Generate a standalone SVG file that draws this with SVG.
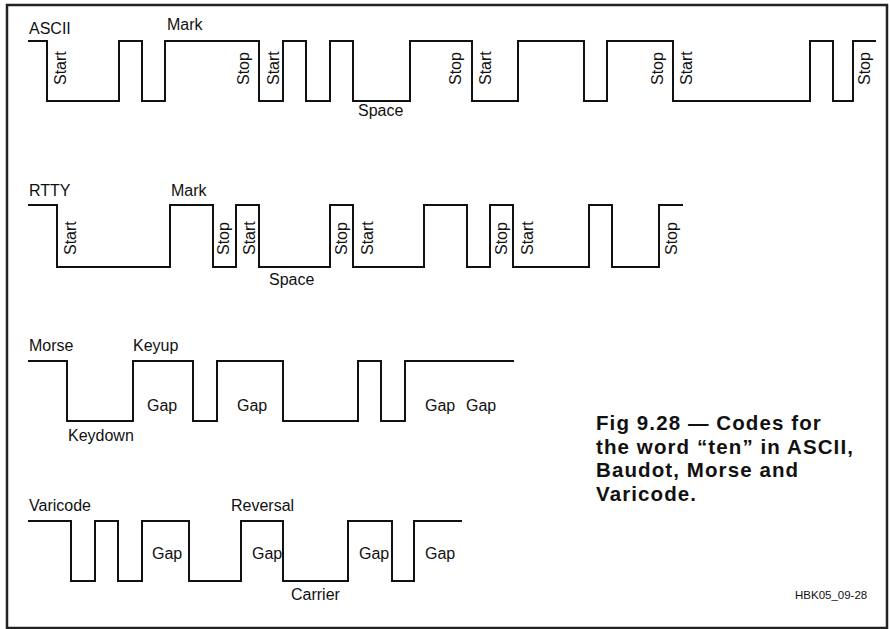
<svg xmlns="http://www.w3.org/2000/svg" width="890" height="629" viewBox="0 0 890 629">
<style>
.w{fill:none;stroke:#111;stroke-width:2;stroke-linejoin:miter}
.t{font-family:"Liberation Sans",Arial,Helvetica,sans-serif;font-size:16px;fill:#111}
.c{font-family:"Liberation Sans",Arial,Helvetica,sans-serif;font-size:20.5px;font-weight:bold;letter-spacing:1.1px;fill:#111}
.f{font-family:"Liberation Sans",Arial,Helvetica,sans-serif;font-size:11.5px;fill:#111}
</style>
<rect x="0" y="0" width="890" height="629" fill="#fff"/>
<rect x="7" y="5" width="880" height="623" fill="none" stroke="#222" stroke-width="2.5"/>
<g id="connectors">
<path id="ascii-wave" class="w" d="M28,41 H47 V101 H119 V41 H142 V101 H165 V41 H259 V101 H283 V41 H306 V101 H330 V41 H353 V101 H410 V41 H472 V101 H518 V41 H584 V101 H607 V41 H673 V101 H810 V41 H833 V101 H853 V41 H876"/>
<path id="rtty-wave" class="w" d="M28,205 H57 V267 H170 V205 H213 V267 H236 V205 H259 V267 H330 V205 H353 V267 H424 V205 H467 V267 H490 V205 H513 V267 H589 V205 H612 V267 H659 V205 H683"/>
<path id="morse-wave" class="w" d="M28,361 H67 V421 H133 V361 H193 V421 H217 V361 H283 V421 H358 V361 H381 V421 H405 V361 H514"/>
<path id="varicode-wave" class="w" d="M28,521 H71 V581 H95 V521 H118 V581 H142 V521 H189 V581 H241 V521 H283 V581 H348 V521 H392 V581 H414 V521 H462"/>
</g>
<g id="ascii" class="t">
<text x="29" y="34">ASCII</text>
<text x="167" y="30">Mark</text>
<text x="358" y="116">Space</text>
<text transform="translate(66,85) rotate(-90)">Start</text>
<text transform="translate(249,85) rotate(-90)">Stop</text>
<text transform="translate(279,85) rotate(-90)">Start</text>
<text transform="translate(461,85) rotate(-90)">Stop</text>
<text transform="translate(491,85) rotate(-90)">Start</text>
<text transform="translate(663,85) rotate(-90)">Stop</text>
<text transform="translate(692,85) rotate(-90)">Start</text>
<text transform="translate(870,85) rotate(-90)">Stop</text>
</g>
<g id="rtty" class="t">
<text x="29" y="196">RTTY</text>
<text x="171" y="196">Mark</text>
<text x="269" y="285">Space</text>
<text transform="translate(76,255) rotate(-90)">Start</text>
<text transform="translate(229,255) rotate(-90)">Stop</text>
<text transform="translate(255,255) rotate(-90)">Start</text>
<text transform="translate(347,255) rotate(-90)">Stop</text>
<text transform="translate(373,255) rotate(-90)">Start</text>
<text transform="translate(507,255) rotate(-90)">Stop</text>
<text transform="translate(533,255) rotate(-90)">Start</text>
<text transform="translate(677,255) rotate(-90)">Stop</text>
</g>
<g id="morse" class="t">
<text x="29" y="351">Morse</text>
<text x="133" y="351">Keyup</text>
<text x="147" y="411">Gap</text>
<text x="237" y="411">Gap</text>
<text x="68" y="441">Keydown</text>
<text x="425" y="411">Gap</text>
<text x="466" y="411">Gap</text>
</g>
<g id="varicode" class="t">
<text x="29" y="511">Varicode</text>
<text x="231" y="511">Reversal</text>
<text x="152" y="559">Gap</text>
<text x="252" y="559">Gap</text>
<text x="359" y="559">Gap</text>
<text x="425" y="559">Gap</text>
<text x="291" y="600">Carrier</text>
</g>
<g id="caption" class="c">
<text x="596" y="430">Fig 9.28 — Codes for</text>
<text x="596" y="453.5">the word “ten” in ASCII,</text>
<text x="596" y="477">Baudot, Morse and</text>
<text x="596" y="500.5">Varicode.</text>
</g>
<g id="footer" class="f">
<text x="795" y="599">HBK05_09-28</text>
</g>
</svg>
